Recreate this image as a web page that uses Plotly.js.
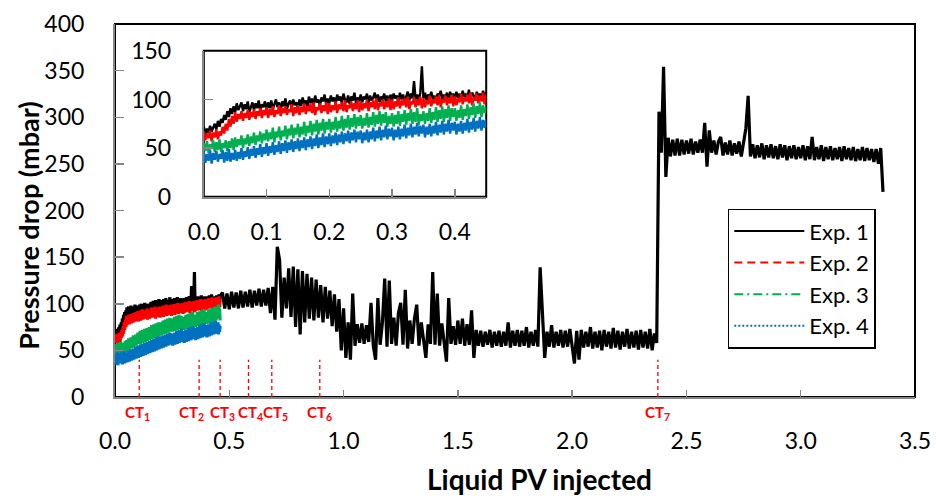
<!DOCTYPE html>
<html>
<head>
<meta charset="utf-8">
<script src="https://cdn.plot.ly/plotly-3.0.1.min.js"></script>
<style>html,body{margin:0;padding:0;background:#fff;}#chart{width:936px;height:496px;}</style>
</head>
<body>
<div id="chart"></div>
<script>
// ---- Sampling grids (liquid PV injected) ----
const FINE_START = 0, FINE_STEP = 0.0025;  // 0.0000 ... 0.4600
const TAIL_START = 0.47, TAIL_STEP = 0.01; // 0.47 ... 3.36

// ---- Exp. 1 pressure drop (mbar), 0-0.46 PV ----
const exp1Early = [
  72,64,70,66,73,67,71,75,69,78,72,80,76,84,79,88,82,91,85,93,
  87,96,89,94,97,88,95,90,98,87,93,97,89,96,91,99,88,95,92,98,
  89,97,91,99,90,96,100,92,97,89,98,93,101,90,96,99,91,100,94,97,
  91,100,93,102,95,99,92,103,96,101,94,104,97,100,93,102,98,105,95,101,
  96,104,98,102,95,105,99,103,96,106,100,97,104,95,103,99,107,96,102,98,
  105,97,103,100,106,96,104,99,102,107,98,105,97,103,100,106,98,104,96,105,
  99,106,101,104,97,107,100,105,98,103,108,99,106,101,119,100,105,98,107,134,
  101,107,99,105,102,108,100,104,98,106,103,109,100,105,101,107,99,108,102,106,
  100,108,102,106,99,109,103,105,101,110,100,107,104,99,108,102,106,100,109,103,
  107,101,110,102,108];
// ---- Exp. 1 pressure drop (mbar), 0.47-3.36 PV ----
const exp1Late = [
  112,95,111,94,113,96,112,95,114,96,
  113,97,115,96,114,98,116,97,115,98,
  117,90,118,83,161,147,85,128,95,138,
  86,140,75,137,67,135,80,132,84,128,
  82,126,85,120,80,118,84,114,76,110,
  70,105,50,95,42,80,40,111,55,78,
  58,79,57,77,59,101,55,40,106,56,
  80,127,54,125,57,85,55,90,101,56,
  115,52,82,57,84,99,55,80,58,42,
  78,57,134,56,111,55,79,58,38,106,
  57,76,56,82,57,84,55,78,56,93,
  42,72,55,71,54,70,56,72,53,70,
  55,71,54,70,55,80,53,71,55,72,
  54,71,55,75,53,70,55,72,54,139,
  92,42,70,54,77,53,70,55,72,53,
  71,54,73,52,36,71,40,72,53,70,
  54,75,52,70,53,71,50,72,54,70,
  52,74,53,71,51,70,54,73,52,70,
  53,71,51,72,53,70,52,73,50,68,
  58,306,262,354,236,278,258,276,259,277,
  259,276,260,275,261,277,260,274,262,276,
  262,294,247,286,262,275,260,274,279,259,
  273,260,275,259,272,261,274,258,276,288,
  323,258,271,256,270,257,272,255,270,257,
  271,256,269,255,271,257,270,254,269,256,
  270,255,268,256,270,254,269,255,279,254,
  268,255,270,253,268,255,269,254,267,255,
  268,253,269,255,267,254,268,253,266,254,
  268,253,267,254,266,252,266,250,267,220];

// ---- Exp. 2 pressure drop (mbar), 0-0.46 PV ----
const exp2 = [
  67,58,65,60,68,57,66,61,69,59,67,63,72,65,75,68,80,72,83,75,
  87,77,85,80,88,78,86,81,89,79,87,82,90,80,88,83,91,81,89,84,
  92,81,90,84,93,82,89,85,94,83,91,86,93,84,90,87,95,83,92,86,
  94,84,92,87,96,85,93,88,95,86,97,84,92,89,96,86,94,88,97,85,
  96,87,94,89,98,86,95,90,97,88,99,87,94,91,98,88,96,90,99,87,
  98,89,96,91,100,88,97,92,99,90,101,89,96,93,100,90,98,92,101,89,
  100,90,98,93,102,91,99,94,101,92,103,90,98,95,102,92,100,94,103,91,
  101,92,99,95,104,93,100,96,103,94,105,92,100,97,104,94,102,96,105,93,
  103,94,101,97,106,95,102,98,105,96,107,94,102,99,106,96,104,98,107,95,
  105,97,108,96,104];
// ---- Exp. 3 pressure drop (mbar), 0-0.46 PV ----
const exp3 = [
  55,47,57,45,54,49,58,46,56,48,59,46,55,50,58,47,57,50,60,48,
  61,51,59,53,63,50,60,54,64,52,62,55,66,53,63,57,67,55,65,58,
  69,57,66,59,71,56,67,61,72,58,68,62,73,59,70,63,74,60,71,64,
  75,61,72,64,77,62,73,66,78,63,75,67,79,64,76,68,80,65,77,69,
  80,66,77,69,82,67,78,70,83,68,80,71,84,69,81,72,85,70,82,73,
  84,70,81,73,86,71,82,74,87,72,84,75,88,73,85,76,87,72,83,75,
  86,72,84,75,88,73,85,77,89,74,86,78,90,75,87,77,91,74,85,78,
  88,75,86,78,91,76,87,79,92,77,89,80,93,77,90,81,94,78,91,82,
  91,78,89,81,94,79,90,83,95,80,92,84,96,81,93,85,97,82,94,86,
  90,99,84,95,82];
// ---- Exp. 4 pressure drop (mbar), 0-0.46 PV ----
const exp4 = [
  46,35,44,37,48,34,45,38,47,36,44,39,48,35,46,37,49,36,45,38,
  48,37,46,39,50,38,47,41,51,39,49,42,52,40,50,43,54,41,51,44,
  55,42,52,45,56,43,53,46,57,44,55,47,58,45,56,48,59,46,57,49,
  60,47,58,50,61,48,59,51,62,49,60,52,64,50,61,53,65,51,62,54,
  65,52,63,55,66,53,64,56,67,54,65,57,68,55,66,58,69,56,67,59,
  68,55,66,58,69,56,67,59,71,57,68,60,72,58,69,61,73,59,70,62,
  71,58,69,61,72,59,70,62,74,60,71,63,75,61,72,64,76,62,73,65,
  74,61,72,64,75,62,73,65,77,63,74,66,78,64,75,67,79,65,76,68,
  77,64,75,67,78,65,76,68,80,66,77,69,81,67,78,70,82,68,79,71,
  80,67,78,70,76];

// ---- Critical times (PV) ----
const ctX = [0.106, 0.368, 0.46, 0.584, 0.686, 0.896, 2.375];
const ctLabels = ['CT<sub>1</sub>','CT<sub>2</sub>','CT<sub>3</sub>','CT<sub>4</sub>','CT<sub>5</sub>','CT<sub>6</sub>','CT<sub>7</sub>'];
const ctLabelShift = [-2, -8, 2, 2, 4, 0, 0];
const ctLineTop = 40;

const seriesNames = ['Exp. 1','Exp. 2','Exp. 3','Exp. 4'];
const seriesColors = ['#000000','#FF0000','#00B050','#0070C0'];
const legendDash = ['solid','8px,5px','9px,4px,2px,4px','2px,2px'];

function grid(start, step, n){ return Array.from({length:n}, (_, i) => +(start + i*step).toFixed(4)); }

const exp1Y = exp1Early.concat(exp1Late);
const exp1X = grid(FINE_START, FINE_STEP, exp1Early.length).concat(grid(TAIL_START, TAIL_STEP, exp1Late.length));
const xs = [exp1X, grid(FINE_START, FINE_STEP, exp2.length), grid(FINE_START, FINE_STEP, exp3.length), grid(FINE_START, FINE_STEP, exp4.length)];
const ys = [exp1Y, exp2, exp3, exp4];

const FONT = 'Lato, "Open Sans", sans-serif';
const traces = [];
for (let k = 0; k < 4; k++) {
  traces.push({x: xs[k], y: ys[k], type:'scatter', mode:'lines', xaxis:'x', yaxis:'y',
    line:{color:seriesColors[k], width:3.2}, showlegend:false, hoverinfo:'skip'});
}
for (let k = 0; k < 4; k++) {
  traces.push({x: xs[k], y: ys[k], type:'scatter', mode:'lines', xaxis:'x2', yaxis:'y2',
    line:{color:seriesColors[k], width:2.4}, showlegend:false, hoverinfo:'skip'});
}
for (let k = 0; k < 4; k++) {
  traces.push({x:[null], y:[null], type:'scatter', mode:'lines', name:seriesNames[k],
    line:{color:seriesColors[k], width:2, dash:legendDash[k]}, showlegend:true});
}

const axisCommon = {showgrid:false, zeroline:false, showline:true, linecolor:'#868686', linewidth:2,
  ticks:'inside', tickcolor:'#868686', tickwidth:1.5, tickfont:{family:FONT, size:23, color:'#000'}};

const shapes = [
  {type:'rect', xref:'paper', yref:'paper', x0:0, x1:1, y0:0, y1:1, line:{color:'#000', width:2}, layer:'below'},
  {type:'rect', xref:'x2 domain', yref:'y2 domain', x0:0, x1:1, y0:0, y1:1, line:{color:'#000', width:2}, fillcolor:'rgba(0,0,0,0)', layer:'below'}
];
const annotations = [
  {xref:'paper', yref:'paper', x:0.531, y:-0.22, text:'<b>Liquid PV injected</b>', showarrow:false,
    font:{family:FONT, size:28, color:'#000'}, xanchor:'center', yanchor:'middle'},
  {xref:'paper', yref:'paper', x:-0.109, y:0.461, text:'<b>Pressure drop (mbar)</b>', showarrow:false, textangle:-90,
    font:{family:FONT, size:27, color:'#000'}, xanchor:'center', yanchor:'middle'}
];
ctX.forEach((cx, i) => {
  shapes.push({type:'line', xref:'x', yref:'y', x0:cx, x1:cx, y0:0, y1:ctLineTop,
    line:{color:'#FF0000', width:1.3, dash:'4px,3px'}});
  annotations.push({xref:'x', yref:'paper', x:cx, y:-0.043, xshift:ctLabelShift[i], text:'<b>'+ctLabels[i]+'</b>', showarrow:false,
    font:{family:FONT, size:15, color:'#FF0000'}, xanchor:'center', yanchor:'middle'});
});

const layout = {
  width:936, height:496, margin:{l:115, r:21, t:24, b:99},
  paper_bgcolor:'#fff', plot_bgcolor:'rgba(0,0,0,0)',
  xaxis: Object.assign({}, axisCommon, {range:[0,3.5], dtick:0.5, tick0:0, tickformat:'.1f', ticklen:7, ticklabelstandoff:22}),
  yaxis: Object.assign({}, axisCommon, {range:[0,400], dtick:50, tick0:0, ticklen:9, ticklabelstandoff:24}),
  xaxis2: Object.assign({}, axisCommon, {domain:[0.111,0.464], anchor:'y2', range:[0,0.45], dtick:0.1, tick0:0, tickformat:'.1f', ticklen:8, ticklabelstandoff:14}),
  yaxis2: Object.assign({}, axisCommon, {domain:[0.537,0.928], anchor:'x2', range:[0,150], dtick:50, tick0:0, ticklen:9, ticklabelstandoff:26}),
  legend:{x:0.766, y:0.505, xanchor:'left', yanchor:'top', bgcolor:'#fff', bordercolor:'#000', borderwidth:1.5,
    font:{family:FONT, size:22, color:'#000'}, itemwidth:70, tracegroupgap:0},
  shapes: shapes, annotations: annotations, showlegend:true
};
Plotly.newPlot('chart', traces, layout, {displayModeBar:false, staticPlot:true});
</script>
</body>
</html>
